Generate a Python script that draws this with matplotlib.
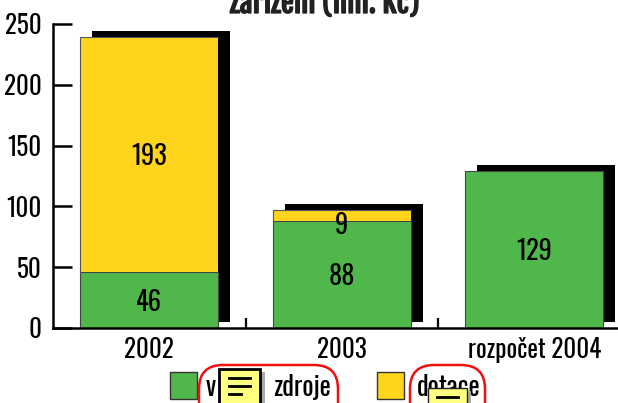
import matplotlib
matplotlib.use("Agg")
import matplotlib.pyplot as plt
import matplotlib.patheffects as pe
from matplotlib.patches import FancyBboxPatch, Rectangle

years = ["2002", "2003", "rozpočet 2004"]
vlastni = [46, 88, 129]
dotace = [193, 9, 0]
title = "zařízení (mil. Kč)"
yticks = [0, 50, 100, 150, 200, 250]

GREEN = "#50b84b"
YELLOW = "#ffd41c"
W, H = 618, 403
plt.rcParams['font.family'] = ['Oswald', 'Archivo Narrow', 'DejaVu Sans']
FS = 18
VAL_FS = 19

fig = plt.figure(figsize=(W / 100, H / 100), dpi=100)

# axes box in pixels, y=0 at 328 and 250 at 24
ax = fig.add_axes([53 / W, (H - 328) / H, (W - 53) / W, 304 / H])
ax.set_xlim(-0.5, 2.434)
ax.set_ylim(0, 250)

# overlay for legend and the note icons, in pixel coordinates
ov = fig.add_axes([0, 0, 1, 1], zorder=5)
ov.set_xlim(0, W)
ov.set_ylim(H, 0)
ov.axis("off")

x = list(range(len(years)))
totals = [a + b for a, b in zip(vlastni, dotace)]


def value_label(i, y, val):
    ax.annotate(str(val), (i, y), xytext=(0, -1.5), textcoords="offset points",
                ha="center", va="center", fontsize=VAL_FS, zorder=4)


# black shadow behind each bar
ax.bar([i + 0.0623 for i in x], totals, bottom=5, width=0.716, color="black", zorder=1)
ax.bar(x, vlastni, width=0.716, color=GREEN, edgecolor="#444444", linewidth=0.8, zorder=2)
ax.bar(x, dotace, bottom=vlastni, width=0.716, color=YELLOW, edgecolor="none", zorder=2)
for i in x:
    if dotace[i]:
        ax.plot([i - 0.358, i - 0.358, i + 0.358], [vlastni[i], totals[i], totals[i]],
                color="#555555", lw=0.8, zorder=3)

for i in x:
    value_label(i, vlastni[i] / 2, vlastni[i])
    if dotace[i] >= 20:
        value_label(i, vlastni[i] + dotace[i] / 2, dotace[i])
    elif dotace[i]:
        # small segment, label hangs over the green part
        value_label(i, vlastni[i] - 2, dotace[i])

for s in ["top", "right"]:
    ax.spines[s].set_visible(False)
ax.spines["left"].set_linewidth(1.8)
ax.spines["bottom"].set_linewidth(1.8)
ax.set_yticks(yticks)
ax.set_yticklabels([str(v) for v in yticks], fontsize=FS)
ax.tick_params(axis="y", direction="in", length=14, width=1.8, pad=8)
ax.set_xticks([0.5, 1.5])
ax.set_xticklabels([])
ax.tick_params(axis="x", direction="in", length=7, width=1.6)

for i in x:
    ov.text(149 + i * 192.6, 350, years[i], ha="center", va="center", fontsize=FS)

# the reference has this title cut by the top edge
t = ov.text(325, 13, title, ha="center", va="baseline", fontsize=21,
            family=['Fjalla One', 'Oswald', 'DejaVu Sans'], color="#222222")
t.set_path_effects([pe.withStroke(linewidth=0.9, foreground="#222222")])

# legend
ov.add_patch(Rectangle((170, 372), 27, 27, fc=GREEN, ec="#333333", lw=1))
ov.add_patch(Rectangle((377, 372), 27, 27, fc=YELLOW, ec="#333333", lw=1))
ov.text(206, 388, "v", ha="left", va="center", fontsize=19)
ov.text(273, 388, "zdroje", ha="left", va="center", fontsize=19)
ov.text(417, 388, "dotace", ha="left", va="center", fontsize=19)

# red rounded outlines around the legend texts
ov.add_patch(FancyBboxPatch((199, 365), 139, 70, boxstyle="round,pad=0,rounding_size=24",
                            fc="none", ec="#f01010", lw=1.8))
ov.add_patch(FancyBboxPatch((410, 365), 75, 70, boxstyle="round,pad=0,rounding_size=24",
                            fc="none", ec="#f01010", lw=1.8))

# note icons
ov.add_patch(Rectangle((261, 372), 4, 31, fc="#aaaaaa", ec="none", zorder=6))
ov.add_patch(Rectangle((219, 369), 41, 40, fc="#ffff80", ec="black", lw=2, zorder=7))
for y0, x1 in [(378, 250), (386, 250), (394, 241)]:
    ov.plot([229, x1], [y0, y0], color="black", lw=2, zorder=8)
ov.add_patch(Rectangle((468, 391), 3, 12, fc="#aaaaaa", ec="none", zorder=6))
ov.add_patch(Rectangle((428, 388), 39, 20, fc="#ffff80", ec="#222222", lw=1, zorder=7))
ov.plot([437, 458], [397, 397], color="black", lw=2, zorder=8)

fig.savefig("out.png", dpi=100)
